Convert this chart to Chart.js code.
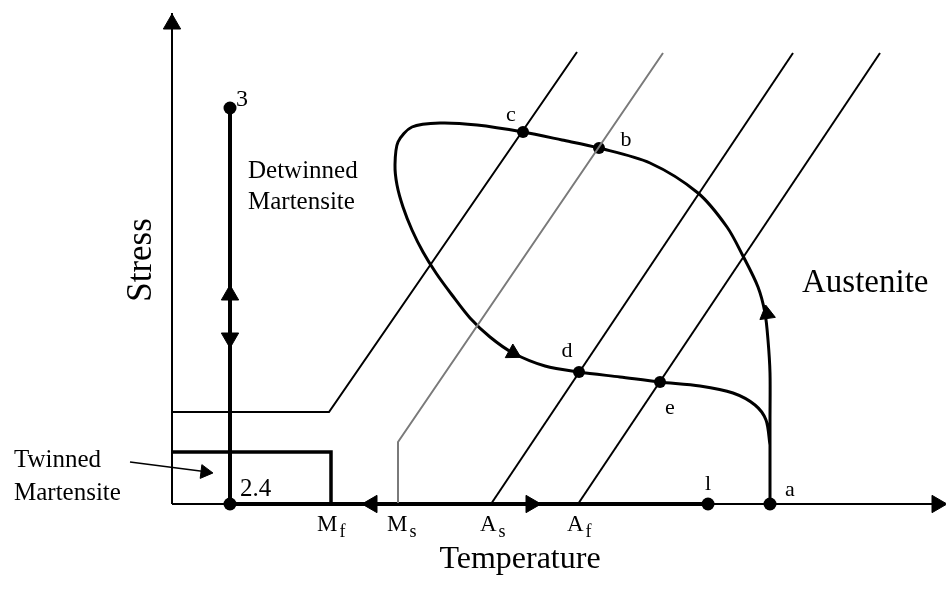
<!DOCTYPE html>
<html>
<head>
<meta charset="utf-8">
<script src="https://cdn.jsdelivr.net/npm/chart.js@4.4.1/dist/chart.umd.min.js"></script>
<style>
body { margin: 0; background: #fff; }
#wrap { width: 946px; height: 589px; position: relative; }
</style>
</head>
<body>
<div id="wrap"><canvas id="smaChart"></canvas></div>
<script>
// temperature (x) vs stress (y), arbitrary units, origin at the axes corner
const stressAxis = [{x: 0, y: 0}, {x: 0, y: 491}];
const tempAxis = [{x: 0, y: 0}, {x: 772, y: 0}];

// phase boundaries
const twinnedOuter = [{x: 0, y: 92}, {x: 157, y: 92}, {x: 405, y: 452}];
const twinnedInner = [{x: 0, y: 52}, {x: 159, y: 52}, {x: 159, y: 0}];
const msLine = [{x: 226, y: 0}, {x: 226, y: 62}, {x: 491, y: 451}];
const asLine = [{x: 319, y: 0}, {x: 621, y: 451}];
const afLine = [{x: 406, y: 0}, {x: 708, y: 451}];

// loading paths
const detwinPath = [{x: 58, y: 0}, {x: 58, y: 396}];
const coolPath = [{x: 58, y: 0}, {x: 536, y: 0}];
const loopPath = [
  {x: 598, y: 0}, {x: 598, y: 84}, {x: 598, y: 131}, {x: 596, y: 164},
  {x: 593, y: 191}, {x: 586, y: 217}, {x: 571, y: 248}, {x: 555, y: 277},
  {x: 526, y: 311}, {x: 478, y: 341}, {x: 427, y: 356}, {x: 390, y: 364},
  {x: 351, y: 372}, {x: 305, y: 379}, {x: 268, y: 381}, {x: 240, y: 377},
  {x: 226, y: 362}, {x: 223, y: 339}, {x: 225, y: 319}, {x: 231, y: 297},
  {x: 240, y: 274}, {x: 251, y: 252}, {x: 264, y: 231}, {x: 280, y: 209},
  {x: 298, y: 186}, {x: 318, y: 167}, {x: 341, y: 151}, {x: 373, y: 138},
  {x: 407, y: 132}, {x: 448, y: 127}, {x: 488, y: 122}, {x: 528, y: 118},
  {x: 561, y: 111}, {x: 583, y: 99}, {x: 594, y: 84}, {x: 598, y: 59}
];
const pointerLine = [{x: -42, y: 42}, {x: 36, y: 32}];

// marked states
const bigDots = [{x: 58, y: 0}, {x: 58, y: 396}, {x: 536, y: 0}, {x: 598, y: 0}];
const loopDots = [{x: 351, y: 372}, {x: 427, y: 356}, {x: 407, y: 132}, {x: 488, y: 122}];

// arrow heads
const upHeads = [{x: 0, y: 480}, {x: 58, y: 209}];
const downHeads = [{x: 58, y: 166}];
const rightHeads = [{x: 765, y: 0}, {x: 359, y: 0}];
const leftHeads = [{x: 200, y: 0}];
const loopHeads = [{x: 341, y: 151}];
const riseHeads = [{x: 595, y: 190}];
const pointerHeads = [{x: 33, y: 32}];

// text
const textLabels = [
  {text: '3', x: 64, y: 404, size: 24, align: 'left'},
  {text: 'Detwinned', x: 76, y: 333, size: 25, align: 'left'},
  {text: 'Martensite', x: 76, y: 302, size: 25, align: 'left'},
  {text: 'Twinned', x: -158, y: 44, size: 25, align: 'left'},
  {text: 'Martensite', x: -158, y: 11, size: 25, align: 'left'},
  {text: '2.4', x: 68, y: 15, size: 25, align: 'left'},
  {text: 'c', x: 339, y: 389, size: 22},
  {text: 'b', x: 454, y: 364, size: 22},
  {text: 'd', x: 395, y: 153, size: 22},
  {text: 'e', x: 498, y: 96, size: 22},
  {text: 'l', x: 536, y: 20, size: 22},
  {text: 'a', x: 618, y: 14, size: 22},
  {text: 'Austenite', x: 630, y: 221, size: 33, align: 'left'},
  {text: 'Temperature', x: 348, y: -56, size: 32},
  {text: 'Stress', x: -30, y: 244, size: 35, rot: -90},
  {text: 'M', sub: 'f', x: 145, y: -21, size: 23, align: 'left'},
  {text: 'M', sub: 's', x: 215, y: -21, size: 23, align: 'left'},
  {text: 'A', sub: 's', x: 308, y: -21, size: 23, align: 'left'},
  {text: 'A', sub: 'f', x: 395, y: -21, size: 23, align: 'left'}
];

function line(data, width, color, tension) {
  return {data: data, showLine: true, borderColor: color || '#000', borderWidth: width,
    pointRadius: 0, tension: tension || 0, fill: false, clip: false,
    borderCapStyle: 'butt', borderJoinStyle: 'miter'};
}
function heads(data, rot, r) {
  return {data: data, showLine: false, pointStyle: 'triangle', pointRotation: rot,
    pointRadius: r, backgroundColor: '#000', borderColor: '#000', borderWidth: 1, clip: false};
}
function dots(data, r) {
  return {data: data, showLine: false, pointStyle: 'circle', pointRadius: r,
    backgroundColor: '#000', borderColor: '#000', borderWidth: 0, clip: false};
}

const labelsPlugin = {
  id: 'labels',
  afterDatasetsDraw(chart) {
    const ctx = chart.ctx;
    const xs = chart.scales.x, ys = chart.scales.y;
    ctx.save();
    ctx.fillStyle = '#000';
    ctx.textBaseline = 'middle';
    textLabels.forEach(l => {
      const px = xs.getPixelForValue(l.x), py = ys.getPixelForValue(l.y);
      ctx.font = l.size + 'px "Liberation Serif"';
      ctx.textAlign = l.align || 'center';
      if (l.rot) {
        ctx.save();
        ctx.translate(px, py);
        ctx.rotate(l.rot * Math.PI / 180);
        ctx.fillText(l.text, 0, 0);
        ctx.restore();
        return;
      }
      ctx.fillText(l.text, px, py);
      if (l.sub) {
        const w = ctx.measureText(l.text).width;
        ctx.font = Math.round(l.size * 0.8) + 'px "Liberation Serif"';
        ctx.textAlign = 'left';
        ctx.fillText(l.sub, px + w + 2, py + 7);
      }
    });
    ctx.restore();
  }
};

const ctx = document.getElementById('smaChart').getContext('2d');
const smaChart = new Chart(ctx, {
  type: 'scatter',
  data: {
    datasets: [
      line(stressAxis, 2),
      line(tempAxis, 2),
      line(twinnedOuter, 2),
      line(twinnedInner, 3.5),
      line(msLine, 2, '#7a7a7a'),
      line(asLine, 2),
      line(afLine, 2),
      line(detwinPath, 4),
      line(coolPath, 4),
      line(loopPath, 3, '#000', 0.3),
      line(pointerLine, 1.5),
      heads(upHeads, 0, 10),
      heads(downHeads, 180, 10),
      heads(rightHeads, 90, 10),
      heads(leftHeads, 270, 10),
      heads(loopHeads, 119, 9),
      heads(riseHeads, -8, 9),
      heads(pointerHeads, 97, 8),
      dots(bigDots, 6.5),
      dots(loopDots, 6)
    ]
  },
  options: {
    responsive: true,
    maintainAspectRatio: false,
    animation: false,
    events: [],
    layout: {padding: 0, autoPadding: false},
    scales: {
      x: {type: 'linear', min: -172, max: 774, display: false},
      y: {type: 'linear', min: -85, max: 504, display: false}
    },
    plugins: {
      legend: {display: false},
      tooltip: {enabled: false}
    }
  },
  plugins: [labelsPlugin]
});
</script>
</body>
</html>
